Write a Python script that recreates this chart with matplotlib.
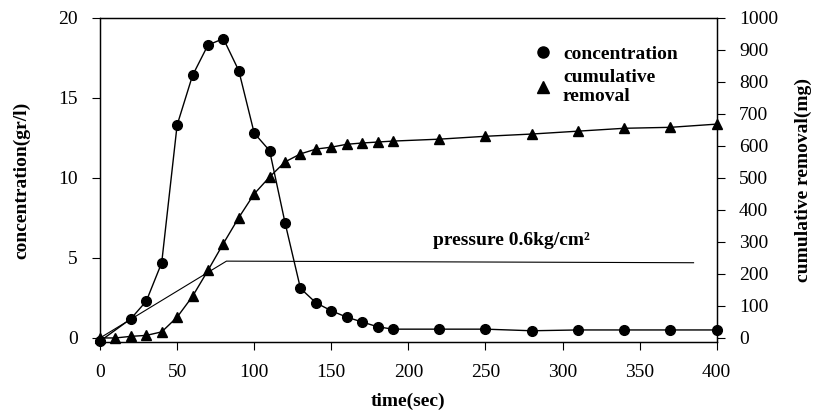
import matplotlib.pyplot as plt
from matplotlib.lines import Line2D

plt.rcParams['font.family'] = ['Liberation Serif', 'DejaVu Serif']

# concentration (gr/l) vs time (sec)
conc_t = [0, 20, 30, 40, 50, 60, 70, 80, 90, 100, 110, 120, 130, 140, 150,
          160, 170, 180, 190, 220, 250, 280, 310, 340, 370, 400]
conc = [-0.2, 1.2, 2.3, 4.7, 13.3, 16.4, 18.3, 18.7, 16.7, 12.8, 11.7, 7.2,
        3.1, 2.2, 1.7, 1.3, 1.0, 0.7, 0.55, 0.55, 0.55, 0.45, 0.5, 0.5, 0.5, 0.5]

# cumulative removal (mg) vs time (sec)
rem_t = [0, 10, 20, 30, 40, 50, 60, 70, 80, 90, 100, 110, 120, 130, 140,
         150, 160, 170, 180, 190, 220, 250, 280, 310, 340, 370, 400]
rem = [0, 0, 5, 8, 19, 65, 130, 211, 295, 376, 450, 503, 550, 575, 590,
       596, 605, 609, 612, 615, 621, 630, 637, 646, 655, 658, 668]

# pressure line (drawn on concentration scale)
pres_t = [0, 82, 385]
pres = [0, 4.8, 4.7]

fig = plt.figure(figsize=(8.2, 4.15), dpi=100)
ax = fig.add_axes([0.122, 0.176, 0.752, 0.781])
ax2 = ax.twinx()

ax.plot(pres_t, pres, color='black', lw=0.8)
ax.plot(conc_t, conc, color='black', lw=1.0, marker='o', ms=7, clip_on=False)
ax2.plot(rem_t, rem, color='black', lw=1.0, marker='^', ms=7, clip_on=False)

ax.set_xlim(0, 400)
ax.set_ylim(-0.25, 20)
ax2.set_ylim(-12.5, 1000)
ax.set_xticks(range(0, 401, 50))
ax.set_yticks([0, 5, 10, 15, 20])
ax2.set_yticks(range(0, 1001, 100))

for a in (ax, ax2):
    a.tick_params(direction='out', labelsize=14, length=6, width=0.8, pad=10)
    for s in a.spines.values():
        s.set_linewidth(0.9)

ax.set_xlabel('time(sec)', fontsize=14, fontweight='bold', labelpad=8)
ax.set_ylabel('concentration(gr/l)', fontsize=14, fontweight='bold', labelpad=20)
ax2.set_ylabel('cumulative removal(mg)', fontsize=14, fontweight='bold', labelpad=12)

ax.text(216, 6.1, 'pressure 0.6kg/cm²', fontsize=14, fontweight='bold',
        va='center')

handles = [Line2D([], [], ls='none', marker='o', color='black', ms=8),
           Line2D([], [], ls='none', marker='^', color='black', ms=8)]
ax.legend(handles, ['concentration', 'cumulative\nremoval'], loc='upper left',
          bbox_to_anchor=(0.675, 0.97), frameon=False,
          handlelength=1.0, handletextpad=0.5, labelspacing=0.3,
          prop={'weight': 'bold', 'size': 14})

fig.savefig('out.png', dpi=100)
